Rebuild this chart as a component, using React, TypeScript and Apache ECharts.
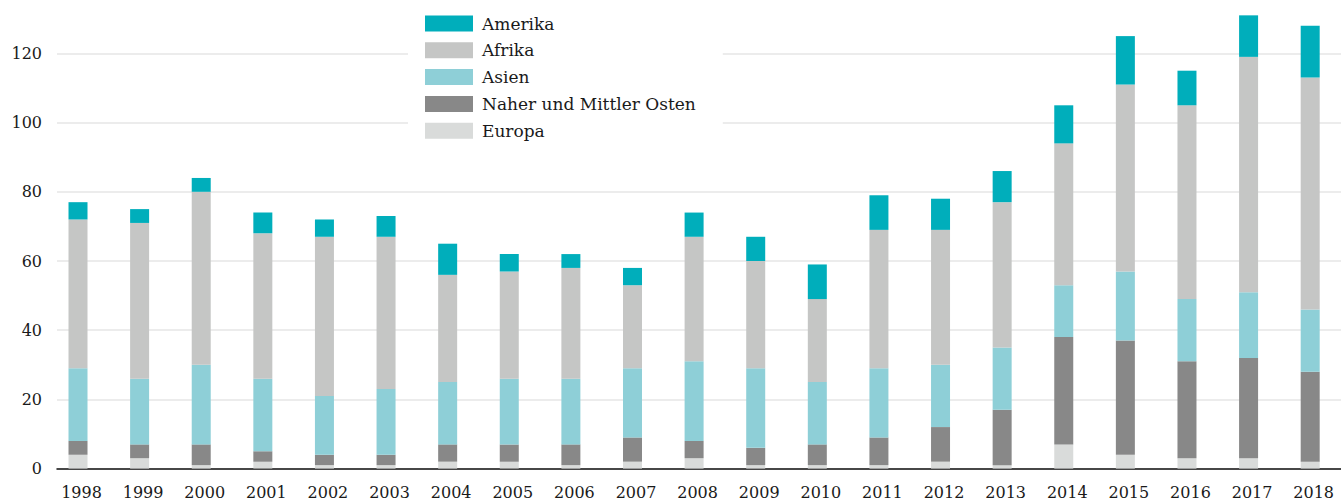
import React, { useEffect, useRef } from "react";
import * as echarts from "echarts";

const years = ["1998", "1999", "2000", "2001", "2002", "2003", "2004", "2005", "2006", "2007", "2008", "2009", "2010", "2011", "2012", "2013", "2014", "2015", "2016", "2017", "2018"];
const europa = [4, 3, 1, 2, 1, 1, 2, 2, 1, 2, 3, 1, 1, 1, 2, 1, 7, 4, 3, 3, 2];
const naherOsten = [4, 4, 6, 3, 3, 3, 5, 5, 6, 7, 5, 5, 6, 8, 10, 16, 31, 33, 28, 29, 26];
const asien = [21, 19, 23, 21, 17, 19, 18, 19, 19, 20, 23, 23, 18, 20, 18, 18, 15, 20, 18, 19, 18];
const afrika = [43, 45, 50, 42, 46, 44, 31, 31, 32, 24, 36, 31, 24, 40, 39, 42, 41, 54, 56, 68, 67];
const amerika = [5, 4, 4, 6, 5, 6, 9, 5, 4, 5, 7, 7, 10, 10, 9, 9, 11, 14, 10, 12, 15];

const legendOrder = ["Amerika", "Afrika", "Asien", "Naher und Mittler Osten", "Europa"];

const FONT = "DejaVu Serif";
const Y_MAX = 135;

export default function App() {
  const ref = useRef<HTMLDivElement>(null);

  useEffect(() => {
    if (!ref.current) return;
    const chart = echarts.init(ref.current, null, { renderer: "svg" });

    const mk = (name: string, values: number[], color: string) => ({
      name,
      type: "bar",
      stack: "total",
      barWidth: 19,
      xAxisIndex: 0,
      yAxisIndex: 0,
      itemStyle: { color },
      emphasis: { disabled: true },
      data: values,
    });

    chart.setOption({
      animation: false,
      backgroundColor: "#ffffff",
      textStyle: { fontFamily: FONT },
      grid: [
        { left: 47.2, right: -13.6, top: 1.5, bottom: 32.4 },
        { left: 57, right: 0, top: 1.5, bottom: 32.4 },
      ],
      legend: {
        orient: "vertical",
        left: 408,
        top: 0,
        data: legendOrder,
        icon: "rect",
        itemWidth: 48,
        itemHeight: 16,
        itemGap: 9.8,
        padding: [15, 27, 10, 17],
        backgroundColor: "#ffffff",
        selectedMode: false,
        z: 10,
        textStyle: { fontFamily: FONT, fontSize: 17, color: "#1a1a1a", padding: [0, 0, 0, 4] },
      },
      xAxis: [
        {
          type: "category",
          gridIndex: 0,
          data: years,
          axisLine: { show: false },
          axisTick: { show: false },
          splitLine: { show: false },
          axisLabel: {
            fontFamily: FONT,
            fontSize: 16,
            color: "#1a1a1a",
            margin: 16,
            padding: [0, 0, 0, 7],
          },
        },
        {
          type: "value",
          gridIndex: 1,
          min: 0,
          max: 1,
          axisLine: { show: true, onZero: true, lineStyle: { color: "#111111", width: 1.5 } },
          axisTick: { show: false },
          splitLine: { show: false },
          axisLabel: { show: false },
        },
      ],
      yAxis: [
        {
          type: "value",
          gridIndex: 0,
          min: 0,
          max: Y_MAX,
          interval: 20,
          axisLine: { show: false },
          axisTick: { show: false },
          splitLine: { show: false },
          axisLabel: { show: false },
        },
        {
          type: "value",
          gridIndex: 1,
          min: 0,
          max: Y_MAX,
          interval: 20,
          axisLine: { show: false },
          axisTick: { show: false },
          splitLine: { show: true, showMaxLine: false, lineStyle: { color: "#e6e6e6", width: 1.5 } },
          axisLabel: {
            fontFamily: FONT,
            fontSize: 16,
            color: "#1a1a1a",
            margin: 15,
            showMaxLabel: false,
          },
        },
      ],
      series: [
        mk("Europa", europa, "#d9dbda"),
        mk("Naher und Mittler Osten", naherOsten, "#888888"),
        mk("Asien", asien, "#8ecfd7"),
        mk("Afrika", afrika, "#c5c6c5"),
        mk("Amerika", amerika, "#00aebb"),
      ],
    });

    return () => chart.dispose();
  }, []);

  return (
    <div
      ref={ref}
      style={{ position: "fixed", left: 0, top: 0, width: 1341, height: 501 }}
    />
  );
}
